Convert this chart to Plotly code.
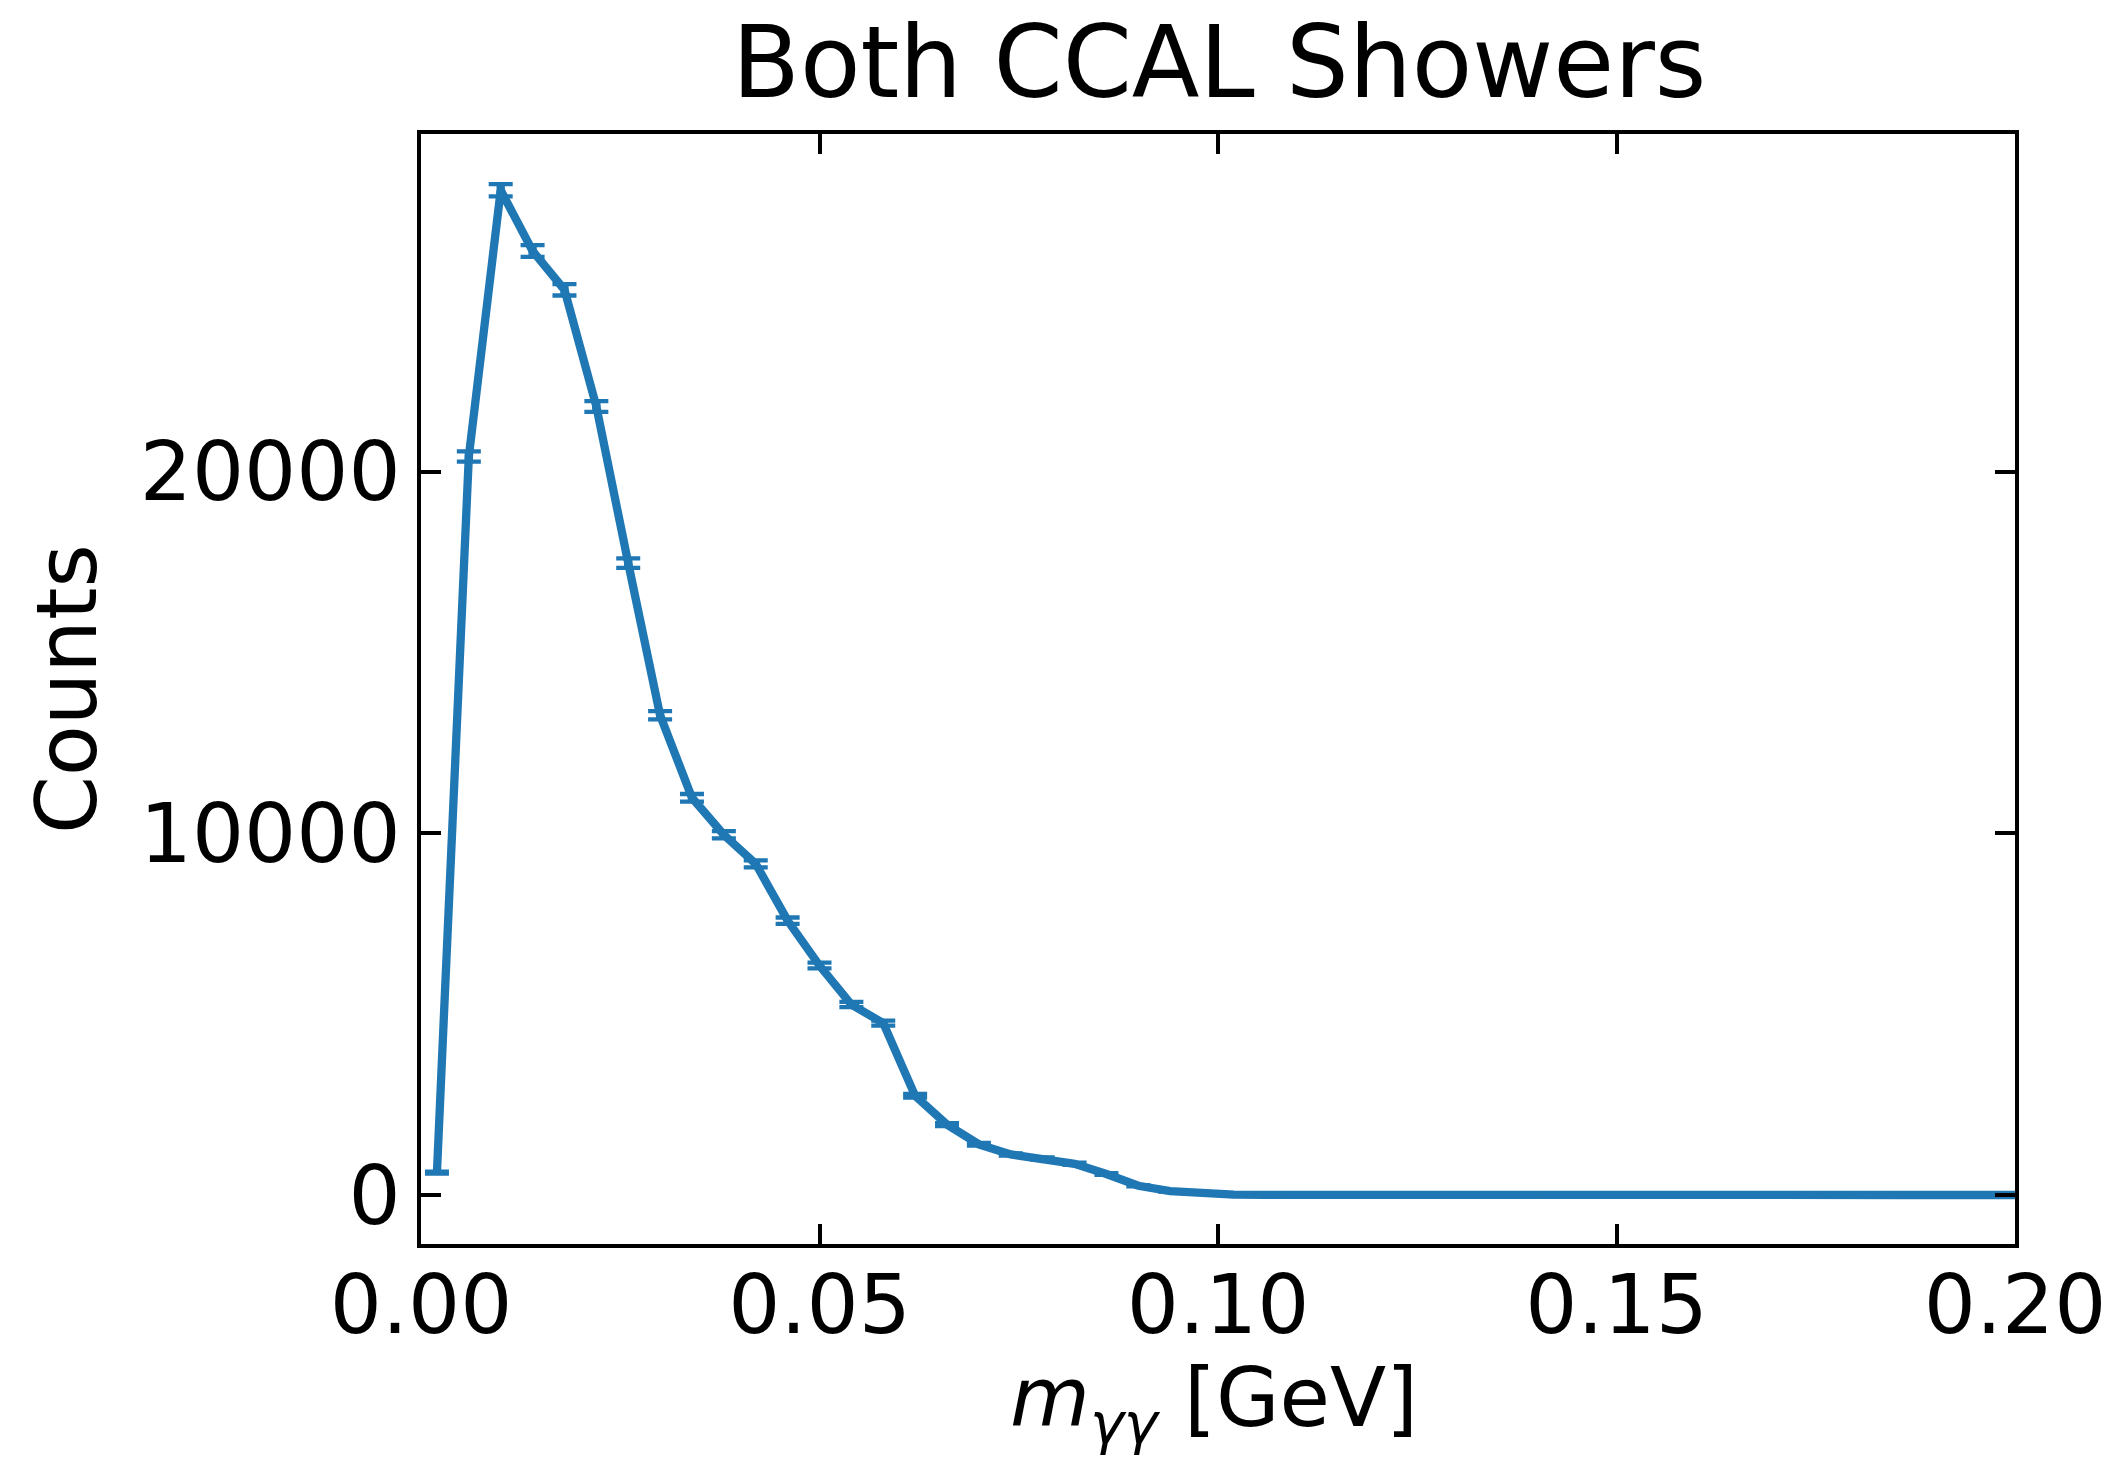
import plotly.graph_objects as go

# Bin centres of m_gg [GeV]
mass_bins = [0.002, 0.006, 0.010, 0.014, 0.018, 0.022, 0.026, 0.030, 0.034, 0.038,
             0.042, 0.046, 0.050, 0.054, 0.058, 0.062, 0.066, 0.070, 0.074, 0.078,
             0.082, 0.086, 0.090, 0.094, 0.098, 0.102, 0.106, 0.110, 0.114, 0.118,
             0.122, 0.126, 0.130, 0.134, 0.138, 0.142, 0.146, 0.150, 0.154, 0.158,
             0.162, 0.166, 0.170, 0.174, 0.178, 0.182, 0.186, 0.190, 0.194, 0.198,
             0.202, 0.206]

counts = [619, 20415, 27775, 26097, 25024, 21797, 17467, 13262, 10980, 9957,
          9155, 7584, 6343, 5265, 4750, 2741, 1945, 1400, 1120, 1010,
          862, 580, 255, 106, 45, 12, 4, 1, 0, 0,
          0, 0, 0, 0, 0, 0, 0, 0, 0, 0,
          0, 0, 0, 0, 0, 0, 0, 0, 0, 0,
          0, 0]

count_errors = [25, 143, 167, 162, 158, 148, 132, 115, 105, 100,
                96, 87, 80, 73, 69, 52, 44, 37, 33, 32,
                29, 24, 16, 10, 7, 3, 2, 1, 0, 0,
                0, 0, 0, 0, 0, 0, 0, 0, 0, 0,
                0, 0, 0, 0, 0, 0, 0, 0, 0, 0,
                0, 0]

x_ticks = [0.0, 0.05, 0.10, 0.15, 0.20]
x_tick_labels = ["0.00", "0.05", "0.10", "0.15", "0.20"]
y_ticks = [0, 10000, 20000]
y_tick_labels = ["0", "10000", "20000"]

title_text = "Both CCAL Showers"
x_label = "<i>m</i><sub><i>γγ</i></sub> [GeV]"
y_label = "Counts"

BLUE = "#1f77b4"
FONT = "DejaVu Sans"

fig = go.Figure()
# line with the vertical error bars (same width as the line, no caps)
fig.add_trace(go.Scatter(
    x=mass_bins, y=counts, mode="lines",
    line=dict(color=BLUE, width=8.3),
    error_y=dict(type="data", array=count_errors, visible=True,
                 color=BLUE, thickness=8.3, width=0),
    showlegend=False, hoverinfo="skip",
))
# error-bar caps
fig.add_trace(go.Scatter(
    x=mass_bins, y=counts, mode="markers",
    marker=dict(size=0.1, color=BLUE, opacity=0),
    error_y=dict(type="data", array=count_errors, visible=True,
                 color=BLUE, thickness=4.3, width=12),
    showlegend=False,
))

W, H = 2121, 1460
PAGE = 8  # browser body margin
L, R, T, B = 413, 114, 126, 224
pw, ph = W - L - R, H - T - B

axis_common = dict(
    showline=True, linecolor="black", linewidth=4, mirror="ticks",
    ticks="inside", ticklen=20, tickwidth=3.5, tickcolor="black",
    showgrid=False, zeroline=False,
    tickfont=dict(family=FONT, size=82, color="black"),
)

fig.update_xaxes(range=[0, 0.2], tickvals=x_ticks, ticktext=x_tick_labels,
                 ticklabelstandoff=-13, **axis_common)
fig.update_yaxes(range=[-1355, 29330], tickvals=y_ticks, ticktext=y_tick_labels,
                 **axis_common)

def px_to_paper_x(px):
    return (px - PAGE - L) / pw

def px_to_paper_y(py):
    return (PAGE + T + ph - py) / ph

fig.add_annotation(text=title_text, xref="paper", yref="paper",
                   x=px_to_paper_x(1219), y=px_to_paper_y(63),
                   xanchor="center", yanchor="middle", showarrow=False,
                   font=dict(family=FONT, size=99, color="black"))
fig.add_annotation(text=x_label, xref="paper", yref="paper",
                   x=px_to_paper_x(1214), y=px_to_paper_y(1403),
                   xanchor="center", yanchor="middle", showarrow=False,
                   font=dict(family=FONT, size=82, color="black"))
fig.add_annotation(text=y_label, xref="paper", yref="paper",
                   x=px_to_paper_x(67), y=px_to_paper_y(689),
                   xanchor="center", yanchor="middle", showarrow=False, textangle=-90,
                   font=dict(family=FONT, size=83, color="black"))

fig.update_layout(
    width=W, height=H,
    margin=dict(l=L, r=R, t=T, b=B, autoexpand=False),
    plot_bgcolor="white", paper_bgcolor="white",
    font=dict(family=FONT, color="black"),
)

fig.write_html("out.html")
